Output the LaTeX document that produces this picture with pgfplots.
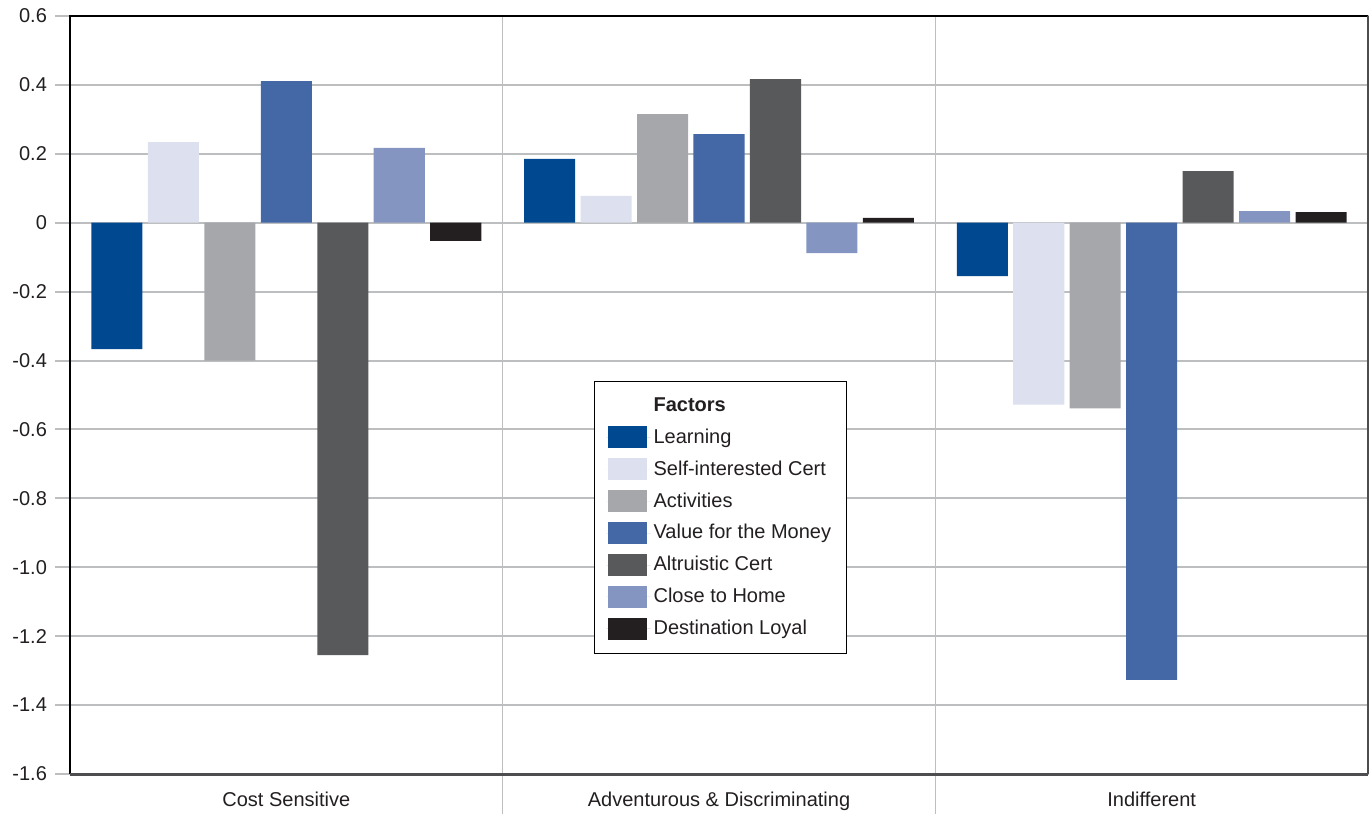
\documentclass[border=0pt]{standalone}
\usepackage{pgfplots}
\pgfplotsset{compat=1.18}
\usepackage{fontspec}
\setmainfont{Liberation Sans}

\definecolor{cLearn}{HTML}{004990}
\definecolor{cSelf}{HTML}{DDE0EE}
\definecolor{cAct}{HTML}{A6A7AA}
\definecolor{cValue}{HTML}{4467A5}
\definecolor{cAltr}{HTML}{58595B}
\definecolor{cHome}{HTML}{8495C2}
\definecolor{cDest}{HTML}{231F20}
\definecolor{gridgray}{HTML}{BCBEC0}
\definecolor{txt}{HTML}{231F20}
\definecolor{axdark}{HTML}{4D4D4F}

\begin{document}
\begin{tikzpicture}
\begin{axis}[
  at={(0,0)}, anchor=south west,
  scale only axis, width=649pt, height=379pt,
  xmin=-0.5, xmax=2.5, ymin=-1.6, ymax=0.6,
  clip=false,
  axis line style={draw=none},
  font=\fontsize{10}{12}\selectfont,
  tick label style={text=txt, font=\fontsize{10}{12}\selectfont},
  xtick={0,1,2},
  xticklabels={Cost Sensitive, Adventurous \& Discriminating, Indifferent},
  x tick style={draw=none},
  xticklabel style={yshift=2pt},
  ytick={-1.6,-1.4,-1.2,-1.0,-0.8,-0.6,-0.4,-0.2,0,0.2,0.4,0.6},
  yticklabels={-1.6,-1.4,-1.2,-1.0,-0.8,-0.6,-0.4,-0.2,0,0.2,0.4,0.6},
  ymajorgrids,
  major grid style={gridgray, line width=1pt},
  y tick style={gridgray, line width=1pt},
  tick align=outside, major tick length=7.5pt,
  yticklabel style={xshift=-0.5pt},
  ybar, bar width=0.118,
  legend style={at={(rel axis cs:0.4037,0.5185)}, anchor=north west,
    draw=black, line width=0.6pt, inner xsep=6pt, inner ysep=6.5pt,
    font=\fontsize{10}{12}\selectfont, text=txt,
    row sep=4.2pt,
    nodes={inner sep=1.5pt, text depth=1.5pt}},
  legend cell align=left,
  legend image code/.code={%
    \path (0pt,0pt) -- (22pt,0pt);
    \fill[#1] (0.5pt,-5.5pt) rectangle (20pt,5.5pt);},
]
\addlegendimage{empty legend}
\addlegendentry{\textbf{Factors}}

\addplot[fill=cLearn, draw=none, bar shift=-0.3915]
  coordinates {(0,-0.367) (1,0.185) (2,-0.155)};
\addlegendentry{Learning}
\addplot[fill=cSelf, draw=none, bar shift=-0.261]
  coordinates {(0,0.234) (1,0.078) (2,-0.528)};
\addlegendentry{Self-interested Cert}
\addplot[fill=cAct, draw=none, bar shift=-0.1305]
  coordinates {(0,-0.400) (1,0.315) (2,-0.539)};
\addlegendentry{Activities}
\addplot[fill=cValue, draw=none, bar shift=0]
  coordinates {(0,0.411) (1,0.257) (2,-1.327)};
\addlegendentry{Value for the Money}
\addplot[fill=cAltr, draw=none, bar shift=0.1305]
  coordinates {(0,-1.255) (1,0.417) (2,0.150)};
\addlegendentry{Altruistic Cert}
\addplot[fill=cHome, draw=none, bar shift=0.261]
  coordinates {(0,0.217) (1,-0.088) (2,0.034)};
\addlegendentry{Close to Home}
\addplot[fill=cDest, draw=none, bar shift=0.3915]
  coordinates {(0,-0.053) (1,0.014) (2,0.031)};
\addlegendentry{Destination Loyal}

% group separators, running below the plot area
\draw[gridgray, line width=0.8pt] (axis cs:0.5,0.6) -- ([yshift=-20pt]axis cs:0.5,-1.6);
\draw[gridgray, line width=0.8pt] (axis cs:1.5,0.6) -- ([yshift=-20pt]axis cs:1.5,-1.6);

% frame
\draw[black, line width=0.9pt] (rel axis cs:0,0) -- (rel axis cs:0,1) -- (rel axis cs:1,1);
\draw[axdark, line width=0.8pt] (rel axis cs:1,1) -- (rel axis cs:1,0);
\draw[axdark, line width=1.5pt] (rel axis cs:0,0) -- (rel axis cs:1,0);
\end{axis}
\pgfresetboundingbox
\useasboundingbox (-35pt,-19.5pt) rectangle (649.5pt,387pt);
\end{tikzpicture}
\end{document}
